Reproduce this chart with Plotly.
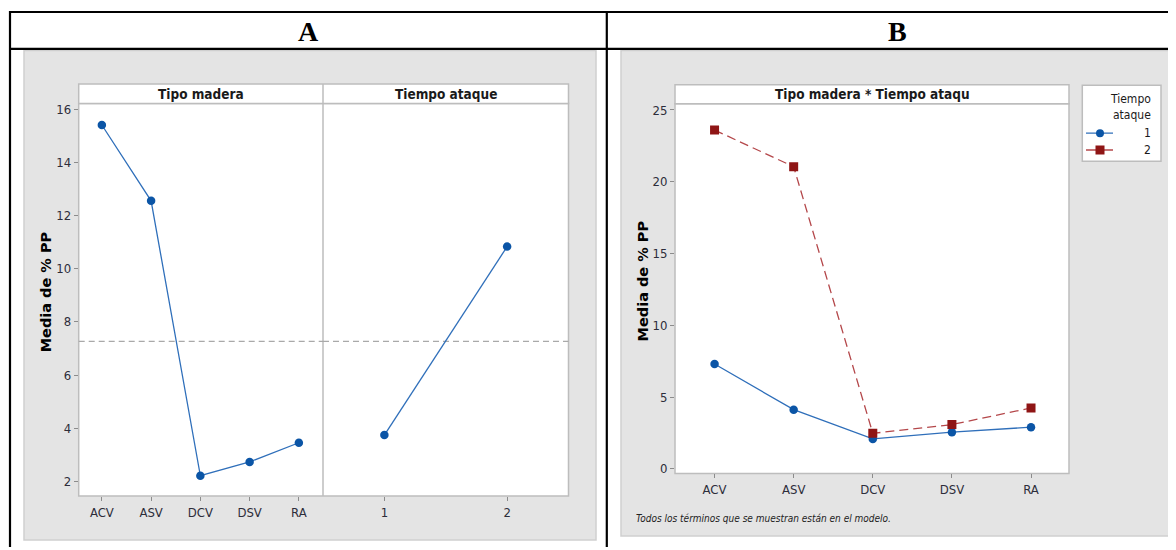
import plotly.graph_objects as go

# ---------------- data ----------------
wood_types = ["ACV", "ASV", "DCV", "DSV", "RA"]
wood_means = [15.40, 12.55, 2.22, 2.74, 3.46]
time_levels = ["1", "2"]
time_means = [3.75, 10.83]
grand_mean = 7.27
time1_means = [7.30, 4.12, 2.08, 2.55, 2.90]
time2_means = [23.60, 21.05, 2.47, 3.08, 4.24]
series_names = ["1", "2"]
yticks_a = [2, 4, 6, 8, 10, 12, 14, 16]
yticks_b = [0, 5, 10, 15, 20, 25]

# page body has an 8px margin: figure occupies (8,8)-(1176,550)
OFF = 8
W, H = 1176 - OFF, 550 - OFF


def fx(x):
    return (x - OFF) / W


def fy(y):
    return 1 - (y - OFF) / H


NARROW = "DejaVu Sans Condensed, Liberation Sans Narrow, Liberation Sans, sans-serif"
TICKCOL = "#2d2d3a"
BORDER = "#bdbdbd"
BLUE_M = "#0b55a6"
BLUE_L = "#2f6fba"
RED_M = "#8f1515"
RED_L = "#b4474a"

# layout geometry (reference pixels)
A_L, A_MID, A_R, A_T, A_B, A_ST = 78.7, 323.0, 568.5, 102.3, 498.5, 82.7
B_L, B_R, B_T, B_B, B_ST = 675.0, 1069.0, 102.7, 475.7, 83.5
LG_L, LG_R, LG_T, LG_B = 1082.3, 1161.0, 84.0, 160.7

fig = go.Figure()

# Panel A - main effect of wood type
fig.add_trace(go.Scatter(
    x=wood_types, y=wood_means, xaxis="x", yaxis="y", mode="lines+markers",
    line=dict(color=BLUE_L, width=1.3),
    marker=dict(color=BLUE_M, size=8.5, symbol="circle"), showlegend=False))
# Panel A - main effect of time
fig.add_trace(go.Scatter(
    x=time_levels, y=time_means, xaxis="x2", yaxis="y2", mode="lines+markers",
    line=dict(color=BLUE_L, width=1.3),
    marker=dict(color=BLUE_M, size=8.5, symbol="circle"), showlegend=False))
# Panel B - interaction
fig.add_trace(go.Scatter(
    x=wood_types, y=time1_means, xaxis="x3", yaxis="y3", mode="lines+markers",
    name=series_names[0], line=dict(color=BLUE_L, width=1.3),
    marker=dict(color=BLUE_M, size=8.5, symbol="circle"), showlegend=False))
fig.add_trace(go.Scatter(
    x=wood_types, y=time2_means, xaxis="x3", yaxis="y3", mode="lines+markers",
    name=series_names[1], line=dict(color=RED_L, width=1.3, dash="9px,5px"),
    marker=dict(color=RED_M, size=9, symbol="square"), showlegend=False))

# Legend samples (helper axis over the legend box)
leg_rows = [132.3, 149.3]
for i, (lc, mc, sym) in enumerate([(BLUE_L, BLUE_M, "circle"),
                                   (RED_L, RED_M, "square")]):
    yy = (LG_B - leg_rows[i]) / (LG_B - LG_T)
    x0 = (1086 - LG_L) / (LG_R - LG_L)
    x1 = (1113 - LG_L) / (LG_R - LG_L)
    xm = (1100 - LG_L) / (LG_R - LG_L)
    fig.add_trace(go.Scatter(x=[x0, x1], y=[yy, yy], xaxis="x4", yaxis="y4",
                             mode="lines", line=dict(color=lc, width=1.3),
                             showlegend=False, hoverinfo="skip"))
    fig.add_trace(go.Scatter(x=[xm], y=[yy], xaxis="x4", yaxis="y4",
                             mode="markers",
                             marker=dict(color=mc, size=8 if sym == "circle" else 9, symbol=sym),
                             showlegend=False, hoverinfo="skip"))

tickfont = dict(family=NARROW, size=13, color=TICKCOL)
common = dict(ticks="outside", ticklen=4, tickwidth=1, tickcolor="#8c8c8c",
              showgrid=False, zeroline=False, showline=False, tickfont=tickfont,
              fixedrange=True)

fig.update_layout(
    width=W, height=H, margin=dict(l=0, r=0, t=0, b=0),
    paper_bgcolor="white", plot_bgcolor="rgba(0,0,0,0)",
    showlegend=False,
    xaxis=dict(domain=[fx(A_L), fx(A_MID)], anchor="y", type="category",
               range=[-0.47, 4.49], **common),
    yaxis=dict(domain=[fy(A_B), fy(A_T)], anchor="x", range=[1.46, 16.21],
               tickvals=yticks_a, **common),
    xaxis2=dict(domain=[fx(A_MID), fx(A_R)], anchor="y2", type="category",
                range=[-0.5, 1.5], **common),
    yaxis2=dict(domain=[fy(A_B), fy(A_T)], anchor="x2", matches="y",
                showticklabels=False, ticks="", showgrid=False, zeroline=False,
                fixedrange=True),
    xaxis3=dict(domain=[fx(B_L), fx(B_R)], anchor="y3", type="category",
                range=[-0.5, 4.48], **common),
    yaxis3=dict(domain=[fy(B_B), fy(B_T)], anchor="x3", range=[-0.32, 25.43],
                tickvals=yticks_b, **common),
    xaxis4=dict(domain=[fx(LG_L), fx(LG_R)], anchor="y4", range=[0, 1],
                visible=False, fixedrange=True),
    yaxis4=dict(domain=[fy(LG_B), fy(LG_T)], anchor="x4", range=[0, 1],
                visible=False, fixedrange=True),
)

shapes = []


def rect(x0, y0, x1, y1, fill=None, line=None, lw=1.0, layer="below"):
    d = dict(type="rect", xref="paper", yref="paper",
             x0=fx(x0), x1=fx(x1), y0=fy(y1), y1=fy(y0), layer=layer,
             line=dict(color=line if line else "rgba(0,0,0,0)", width=lw if line else 0))
    if fill:
        d["fillcolor"] = fill
    shapes.append(d)


def seg(x0, y0, x1, y1, color, width, layer="above"):
    shapes.append(dict(type="line", xref="paper", yref="paper",
                       x0=fx(x0), x1=fx(x1), y0=fy(y0), y1=fy(y1), layer=layer,
                       line=dict(color=color, width=width)))


# gray panels
rect(24, 49, 596, 543, fill="#e4e4e4", line="#cfcfcf", lw=1.5)
rect(621, 49, 1172, 539, fill="#e4e4e4", line="#cfcfcf", lw=1.5)
# plot areas + strips (white)
rect(A_L, A_T, A_R, A_B, fill="white", line=BORDER, lw=1.5)
rect(A_L, A_ST, A_R, A_T, fill="white", line=BORDER, lw=1.5)
seg(A_MID, A_ST, A_MID, A_B, BORDER, 1.5, layer="below")
rect(B_L, B_T, B_R, B_B, fill="white", line=BORDER, lw=1.5)
rect(B_L, B_ST, B_R, B_T, fill="white", line=BORDER, lw=1.5)
# legend box
rect(LG_L, LG_T, LG_R, LG_B, fill="white", line=BORDER, lw=1.5)

# grand mean reference lines (data coords)
for xr, yr in [("x domain", "y"), ("x2 domain", "y2")]:
    shapes.append(dict(type="line", xref=xr, yref=yr, x0=0, x1=1,
                       y0=grand_mean, y1=grand_mean, layer="below",
                       line=dict(color="#a9a9a9", width=1.2, dash="6px,4px")))

# table borders
seg(9, 10, 1176, 10, "black", 2.2)
seg(10, 9, 10, 550, "black", 2.2)
seg(9, 47.3, 1176, 47.3, "black", 2.2)
seg(606.8, 9, 606.8, 550, "black", 2.2)

fig.update_layout(shapes=shapes)

ann = []


def text(x, y, s, size, family, color="#1a1a1a", xanchor="center", bold=False,
         italic=False, angle=0):
    if bold:
        s = "<b>" + s + "</b>"
    if italic:
        s = "<i>" + s + "</i>"
    ann.append(dict(xref="paper", yref="paper", x=fx(x), y=fy(y), text=s,
                    showarrow=False, xanchor=xanchor, yanchor="middle",
                    textangle=angle,
                    font=dict(size=size, family=family, color=color)))


SERIF = "Liberation Serif, Times New Roman, serif"
text(308, 30, "A", 28, SERIF, color="black", bold=True)
text(897, 30, "B", 28, SERIF, color="black", bold=True)
text((A_L + A_MID) / 2, 92.5, "Tipo madera", 13.5, NARROW, bold=True)
text((A_MID + A_R) / 2, 92.5, "Tiempo ataque", 13.5, NARROW, bold=True)
text((B_L + B_R) / 2, 93, "Tipo madera * Tiempo ataqu", 13.5, NARROW, bold=True)
text(46, 293, "Media de % PP", 14.5, "DejaVu Sans, sans-serif", color="black",
     bold=True, angle=-90)
text(643, 282, "Media de % PP", 14.5, "DejaVu Sans, sans-serif", color="black",
     bold=True, angle=-90)
text(634, 521, "Todos los términos que se muestran están en el modelo.", 10,
     NARROW, color="#222222", xanchor="left", italic=True)
text(1153, 98.3, "Tiempo", 12, NARROW, xanchor="right")
text(1153, 114, "ataque", 12, NARROW, xanchor="right")
text(1153, 132.3, series_names[0], 12, NARROW, xanchor="right")
text(1153, 149.3, series_names[1], 12, NARROW, xanchor="right")
fig.update_layout(annotations=ann)

fig.write_html("out.html")
